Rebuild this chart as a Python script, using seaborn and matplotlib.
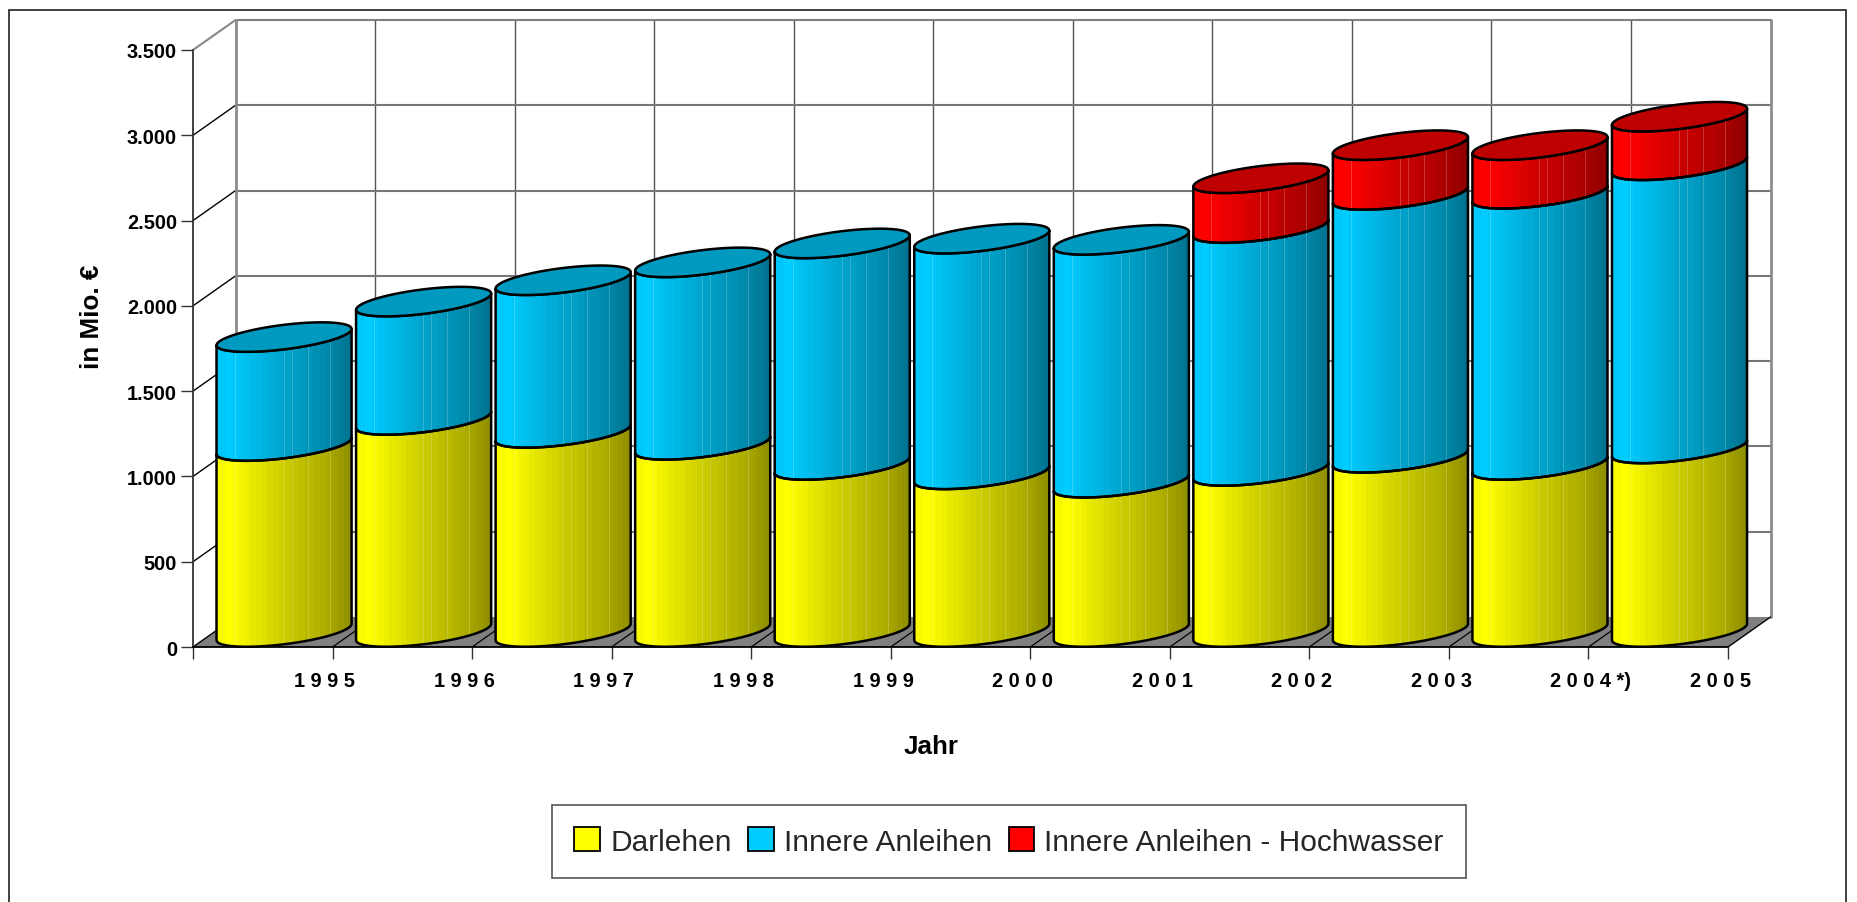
import matplotlib
matplotlib.use("Agg")
import matplotlib.pyplot as plt
import numpy as np
import seaborn as sns
from matplotlib.patches import Patch, PathPatch, Rectangle
from matplotlib.path import Path

# ================ Data ================
YEARS = ["1995", "1996", "1997", "1998", "1999", "2000", "2001", "2002", "2003", "2004", "2005"]
YEAR_LABELS = ["1 9 9 5", "1 9 9 6", "1 9 9 7", "1 9 9 8", "1 9 9 9", "2 0 0 0",
               "2 0 0 1", "2 0 0 2", "2 0 0 3", "2 0 0 4 *)", "2 0 0 5"]
DARLEHEN = [1090, 1243, 1167, 1097, 979, 924, 875, 944, 1021, 979, 1076]
ANLEIHEN = [639, 694, 895, 1070, 1299, 1382, 1424, 1424, 1541, 1590, 1660]
HOCHWASSER = [0, 0, 0, 0, 0, 0, 0, 292, 292, 285, 285]
Y_TICKS = [0, 500, 1000, 1500, 2000, 2500, 3000, 3500]
Y_LABELS = ["0", "500", "1.000", "1.500", "2.000", "2.500", "3.000", "3.500"]
SERIES = ["Darlehen", "Innere Anleihen", "Innere Anleihen - Hochwasser"]
COLORS = ["#FFFF00", "#00CCFF", "#FF0000"]

# fake 3D box depth, in data units
DEPTH_X = 0.305
DEPTH_Y = 176
BAR_WIDTH = 0.968
SQUASH = 0.75  # top ellipse colour compared to the side
STREAKS = [0.135, 0.175, 0.228, 0.497, 0.555, 0.674, 0.735, 0.836, 0.92]

sns.set_theme(style="white")
plt.rcParams["font.family"] = ["Liberation Sans", "DejaVu Sans"]

W, H = 1857, 903
fig = plt.figure(figsize=(W / 100, H / 100), dpi=100, facecolor="white")
ax = fig.add_axes([193 / W, 1 - 648 / H, (1728 - 193) / W, (648 - 51) / H])
ax.patch.set_visible(False)

# ================ Bars (seaborn gives the geometry, cylinders are painted on top) ================
cum1 = np.array(DARLEHEN)
cum2 = cum1 + np.array(ANLEIHEN)
cum3 = cum2 + np.array(HOCHWASSER)
layers = []
for vals in [cum1, cum2, cum3]:
    n_before = len(ax.patches)
    sns.barplot(x=YEARS, y=vals, color="white", width=BAR_WIDTH, ax=ax)
    layers.append(list(ax.patches[n_before:]))
for bars in layers:
    for b in bars:
        b.set_visible(False)


def arc(xc, level, t0, t1, half_w):
    # ellipse sheared so the sides stay vertical, level = lowest point of the ellipse
    t = np.linspace(t0, t1, 60)
    cy = level + DEPTH_Y / 2
    return np.column_stack([xc + half_w * np.cos(t), cy + 48 * np.cos(t) + 72 * np.sin(t)])


def shade_strip(color, n=240):
    u = (np.arange(n) + 0.5) / n
    f = np.interp(u, [0, 0.1, 0.5, 0.8, 1], [0.97, 1, 0.8, 0.68, 0.55])
    f = np.round(f * 48) / 48
    rgb = np.array(matplotlib.colors.to_rgb(color))
    strip = f[:, None] * rgb
    for s in STREAKS:
        i = int(s * n)
        strip[i] = strip[i] + (1 - strip[i]) * 0.2
    return strip[None, :, :]


for k in range(len(YEARS)):
    base = 0
    for j, bars in enumerate(layers):
        b = bars[k]
        top = b.get_height()
        if top <= base:
            continue
        xc = b.get_x() + b.get_width() / 2 + DEPTH_X / 2
        hw = b.get_width() / 2
        side = np.vstack([arc(xc, base, np.pi, 2 * np.pi, hw), arc(xc, top, 2 * np.pi, np.pi, hw)])
        patch = PathPatch(Path(np.vstack([side, side[:1]])), facecolor="none", edgecolor="black",
                          lw=1.8, zorder=5 + k, clip_on=False, joinstyle="round")
        ax.add_patch(patch)
        im = ax.imshow(shade_strip(COLORS[j]), aspect="auto", interpolation="nearest",
                       extent=(xc - hw, xc + hw, base - 20, top + 2 * DEPTH_Y), zorder=4.9 + k)
        im.set_clip_path(PathPatch(Path(np.vstack([side, side[:1]])), transform=ax.transData))
        im.set_clip_box(fig.bbox)
        base = top
    # lid
    lid = arc(xc, base, 0, 2 * np.pi, hw)
    lid_color = np.array(matplotlib.colors.to_rgb(COLORS[j if HOCHWASSER[k] else 1])) * SQUASH
    ax.fill(lid[:, 0], lid[:, 1], facecolor=lid_color, edgecolor="black", lw=1.8,
            zorder=5.5 + k, clip_on=False)

# ================ Box: floor, walls, grid ================
x0, x1 = -0.5, len(YEARS) - 0.5
ax.fill([x0, x1, x1 + DEPTH_X, x0 + DEPTH_X], [0, 0, DEPTH_Y, DEPTH_Y], color="#808080",
        lw=0, zorder=1, clip_on=False)
for v in Y_TICKS:
    col = "#808080" if v in (0, 3500) else "#777777"
    if v > 0:
        ax.plot([x0 + DEPTH_X, x1 + DEPTH_X], [v + DEPTH_Y] * 2, color=col, lw=1.5, zorder=1.5, clip_on=False)
    side_col = "#888888" if v == 3500 else "black"
    ax.plot([x0, x0 + DEPTH_X], [v, v + DEPTH_Y], color=side_col, lw=1 if v < 3500 else 1.5,
            zorder=1.5, clip_on=False)
for i in range(1, len(YEARS)):
    xb = x0 + i
    ax.plot([xb + DEPTH_X] * 2, [DEPTH_Y, 3500 + DEPTH_Y], color="#555555", lw=1, zorder=1.4, clip_on=False)
    ax.plot([xb, xb + DEPTH_X], [0, DEPTH_Y], color="black", lw=0.9, zorder=1.5, clip_on=False)
for xb in [x0 + DEPTH_X, x1 + DEPTH_X]:
    ax.plot([xb, xb], [DEPTH_Y, 3500 + DEPTH_Y], color="#8C8C8C", lw=2, zorder=1.6, clip_on=False)
ax.plot([x1, x1 + DEPTH_X], [0, DEPTH_Y], color="black", lw=1, zorder=1.6, clip_on=False)

ax.set_xlim(x0, x1)
ax.set_ylim(0, 3500)

# ================ Axes and text ================
for name in ["top", "right"]:
    ax.spines[name].set_visible(False)
ax.spines["left"].set_color("#333333")
ax.spines["bottom"].set_color("black")
for name in ["left", "bottom"]:
    ax.spines[name].set_linewidth(1.3)
    ax.spines[name].set_zorder(30)

ax.set_yticks(Y_TICKS)
ax.set_yticklabels(Y_LABELS, fontsize=14.4, fontweight="bold", color="black")
ax.set_xticks(np.arange(len(YEARS) + 1) - 0.5)
ax.set_xticklabels(YEAR_LABELS + [""], fontsize=14.4, fontweight="bold", color="black")
ax.tick_params(axis="both", length=8.6, width=1, color="#333333", left=True, bottom=True)
ax.tick_params(axis="x", pad=9)
ax.tick_params(axis="y", pad=3)
# labels sit left of the tick that closes their category
ticks_x = ax.get_xticklabels()
shift = matplotlib.transforms.ScaledTranslation(73 / 72, 0, fig.dpi_scale_trans)
for lab in ticks_x:
    lab.set_ha("left")
    lab.set_transform(lab.get_transform() + shift)

ax.set_xlabel("Jahr", fontsize=18.7, fontweight="bold", color="black")
ax.xaxis.set_label_coords((931 - 193) / 1535, -(747 - 648) / 597)
ax.xaxis.label.set_va("center")
ax.set_ylabel("in Mio. €", fontsize=18.7, fontweight="bold", color="black")
ax.yaxis.set_label_coords((92 - 193) / 1535, (648 - 317) / 597)
ax.yaxis.label.set_va("center")

handles = [Patch(facecolor=c, edgecolor="black", lw=1.3, label=s) for c, s in zip(COLORS, SERIES)]
leg = fig.legend(handles=handles, loc="center", bbox_to_anchor=(1009 / W, 1 - 842.5 / H), ncol=3,
                 fontsize=21.5, frameon=True, fancybox=False, edgecolor="#555555", framealpha=1,
                 handlelength=0.85, handleheight=0.85, handletextpad=0.35, columnspacing=0.55,
                 borderpad=0.75, borderaxespad=0)
leg.get_frame().set_linewidth(1.2)

fig.add_artist(Rectangle((9 / W, -0.02), (1846 - 9) / W, 1.02 - 11 / H, transform=fig.transFigure,
                         fill=False, edgecolor="#333333", lw=1.3))

fig.savefig("out.png", dpi=100)
